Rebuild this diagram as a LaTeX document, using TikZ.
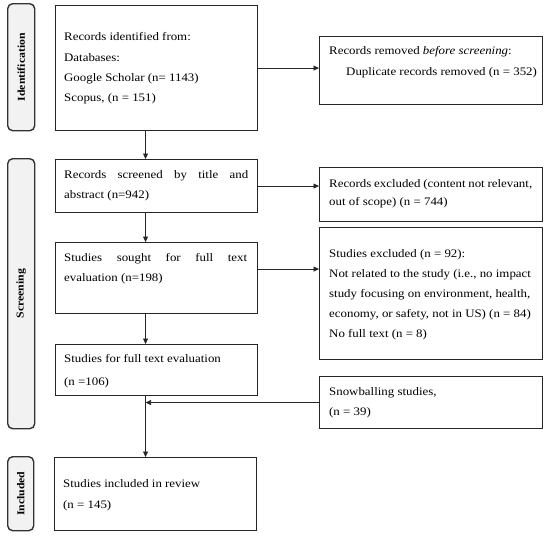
\documentclass[tikz,border=0pt]{standalone}
\usepackage{fontspec}
\setmainfont{Liberation Serif}[FakeStretch=1.12]
\usetikzlibrary{arrows.meta}
\begin{document}
\begin{tikzpicture}[x=1pt,y=-1pt,
  box/.style={draw=black!85, line width=1.1pt, inner sep=0pt, anchor=north west},
  side/.style={draw=black!80, fill=black!5, line width=1.4pt, rounded corners=5pt, inner sep=0pt, anchor=north west},
  sidetext/.style={rotate=90, font=\fontsize{10.5}{12}\selectfont\bfseries, inner sep=0pt},
  txt/.style={anchor=west, align=left, inner sep=0pt},
  arr/.style={draw=black!85, line width=0.8pt, -{Triangle[length=5.5pt,width=5pt]}},
]
\useasboundingbox (0,0) rectangle (550,536);
% side labels
\node[side, minimum width=27pt, minimum height=127pt] (s1) at (7,3) {};
\node[side, minimum width=27pt, minimum height=270pt] (s2) at (7,158) {};
\node[side, minimum width=26pt, minimum height=74pt] (s3) at (7,456) {};
\node[sidetext] (s1t) at (s1.center) {Identification};
\node[sidetext] (s2t) at (s2.center) {Screening};
\node[sidetext] (s3t) at (s3.center) {Included};
% main boxes
\node[box, minimum width=202pt, minimum height=125pt] (b1) at (55,5) {};
\node[box, minimum width=202pt, minimum height=53pt] (b2) at (55,159) {};
\node[box, minimum width=202pt, minimum height=71pt] (b3) at (55,242) {};
\node[box, minimum width=202pt, minimum height=51pt] (b4) at (55,344) {};
\node[box, minimum width=202pt, minimum height=73pt] (b5) at (54,457) {};
\node[box, minimum width=223pt, minimum height=68pt] (r1) at (319,36) {};
\node[box, minimum width=223pt, minimum height=54pt] (r2) at (319,167) {};
\node[box, minimum width=223pt, minimum height=132pt] (r3) at (319,227) {};
\node[box, minimum width=223pt, minimum height=52pt] (r4) at (319,376) {};
% texts
\node[txt, font=\fontsize{11.5}{20.3}\selectfont] (t1) at (64,68.5) {Records identified from:\\Databases:\\Google Scholar (n= 1143)\\Scopus, (n = 151)};
\node[txt, font=\fontsize{11.5}{21}\selectfont] (tr1) at (329,62.5) {Records removed \textit{before screening}:\\\hspace*{17pt}Duplicate records removed (n = 352)};
\node[txt, font=\fontsize{11.5}{20}\selectfont] (t2) at (64,186) {\makebox[184pt][s]{Records screened by title and}\\abstract (n=942)};
\node[txt, font=\fontsize{11.5}{18}\selectfont] (tr2) at (329,194) {\makebox[203pt][s]{Records excluded (content not relevant,}\\out of scope) (n = 744)};
\node[txt, font=\fontsize{11.5}{20}\selectfont] (t3) at (64,269) {\makebox[183pt][s]{Studies sought for full text}\\evaluation (n=198)};
\node[txt, font=\fontsize{11.5}{20}\selectfont] (tr3) at (329,295) {Studies excluded (n = 92):\\Not related to the study (i.e., no impact\\study focusing on environment, health,\\economy, or safety, not in US) (n = 84)\\No full text (n = 8)};
\node[txt, font=\fontsize{11.5}{23}\selectfont] (t4) at (64,371.5) {Studies for full text evaluation\\(n =106)};
\node[txt, font=\fontsize{11.5}{20}\selectfont] (tr4) at (329,403) {Snowballing studies,\\(n = 39)};
\node[txt, font=\fontsize{11.5}{21}\selectfont] (t5) at (63,495.5) {Studies included in review\\(n = 145)};
% connectors
\coordinate (vx) at ([xshift=-11pt]b1.south);
\draw[arr] (b1.east) -- (b1.east -| r1.west);
\draw[arr] (b2.east) -- (b2.east -| r2.west);
\draw[arr] ([yshift=9pt]b3.east) -- ([yshift=9pt]b3.east -| r3.west);
\draw[arr] (b1.south -| vx) -- (b2.north -| vx);
\draw[arr] (b2.south -| vx) -- (b3.north -| vx);
\draw[arr] (b3.south -| vx) -- (b4.north -| vx);
\draw[arr] (b4.south -| vx) -- (b5.north -| vx);
\draw[arr] (r4.west) -- (r4.west -| vx);
\end{tikzpicture}
\end{document}
